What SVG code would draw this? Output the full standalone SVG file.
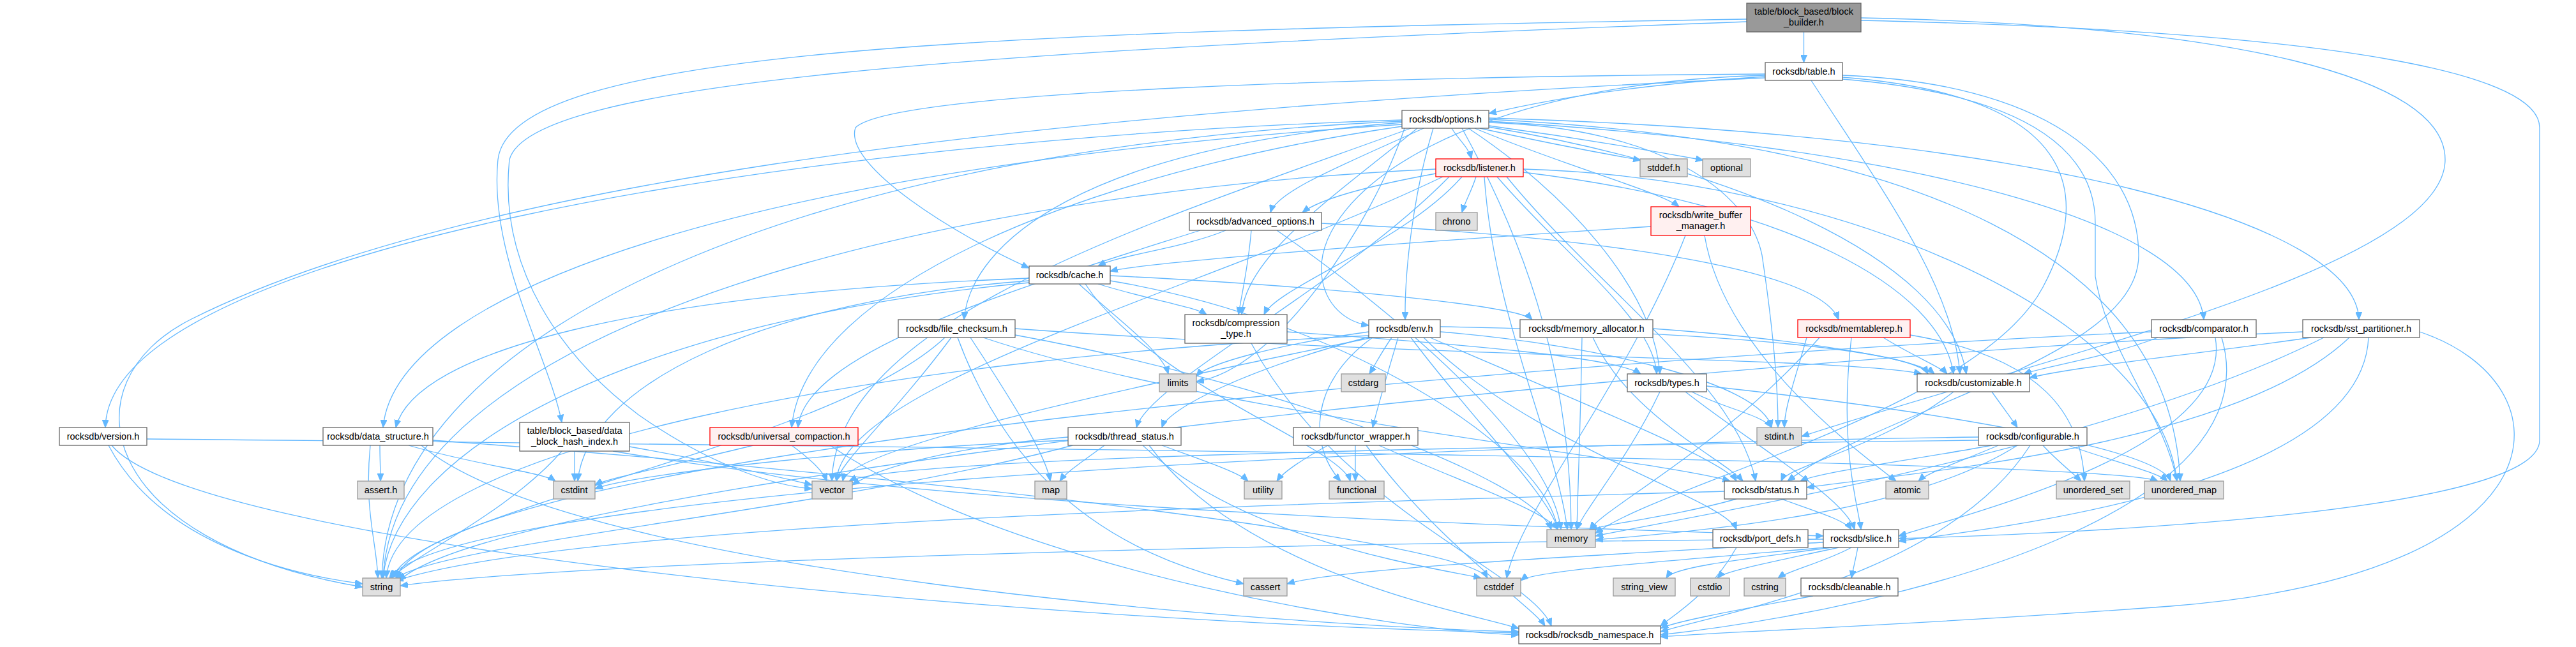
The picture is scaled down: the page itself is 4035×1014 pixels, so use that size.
<svg xmlns="http://www.w3.org/2000/svg" width="4035" height="1014" viewBox="0 0 4035 1014">
<style>
.e{fill:none;stroke:#63b8ff;stroke-width:1.3;marker-end:url(#ah)}
.n{fill:#ffffff;stroke:#666666;stroke-width:1.3}
.g{fill:#e0e0e0;stroke:#999999;stroke-width:1.3}
.r{fill:#fff0f0;stroke:#ff0000;stroke-width:1.3}
.root{fill:#999999;stroke:#666666;stroke-width:1.3}
text{font-family:"Liberation Sans",Arial,sans-serif;font-size:14.5px;text-anchor:middle;fill:#000000}
</style>
<defs>
<marker id="ah" viewBox="0 0 12 10" refX="12" refY="5" markerWidth="12" markerHeight="10" markerUnits="userSpaceOnUse" orient="auto">
<path d="M0,0 L12,5 L0,10 z" fill="#63b8ff" stroke="#63b8ff"/>
</marker>
</defs>
<rect width="4035" height="1014" fill="#ffffff"/>
<g id="edges">
<path class="e" d="M2825.5,50 L2825.5,98"/>
<path class="e" d="M2736,30 C1500,50 800,80 780,250 C765,400 860,560 880,662"/>
<path class="e" d="M2736,34 C1500,80 830,130 798,250 C780,420 880,560 1000,650 C1100,720 1200,760 1272,766"/>
<path class="e" d="M2915,28 C3500,40 3830,120 3830,250 C3830,420 3200,560 2822,684"/>
<path class="e" d="M2915,32 C3700,50 3978,120 3978,200 L3978,690 C3978,800 3300,835 2974,844"/>
<path class="e" d="M2765,120 C2600,130 2450,150 2332,178"/>
<path class="e" d="M2765,116 C2200,120 1400,140 1340,200 C1320,260 1500,370 1612,420"/>
<path class="e" d="M2837,126 C2950,300 3060,450 3070,586"/>
<path class="e" d="M2765,118 C2300,130 2060,300 2070,430 C2075,480 2110,505 2144,510"/>
<path class="e" d="M2886,118 C3200,130 3350,250 3350,400 C3350,560 2950,640 2800,754"/>
<path class="e" d="M2886,121 C3250,150 3280,300 3200,450 C3100,640 2600,760 2499,836"/>
<path class="e" d="M2765,122 C1500,180 700,300 300,500 C100,600 150,850 568,920"/>
<path class="e" d="M2886,124 C3200,150 3282,250 3282,350 L3282,433 C3300,550 3390,650 3410,754"/>
<path class="e" d="M2274,201 C2285,220 2300,230 2305,249"/>
<path class="e" d="M2318,201 Q2450,230 2570,251"/>
<path class="e" d="M2332,197 Q2500,220 2668,251"/>
<path class="e" d="M2332,192 C2600,200 2740,300 2760,400 C2775,500 2785,600 2785,670"/>
<path class="e" d="M2200,201 C2150,350 2000,580 1874,598"/>
<path class="e" d="M2290,201 C2400,400 2460,600 2461,830"/>
<path class="e" d="M2196,190 C1300,230 610,500 598,906"/>
<path class="e" d="M2332,187 C3000,220 3400,400 3415,754"/>
<path class="e" d="M2210,201 C1800,350 1310,500 1303,754"/>
<path class="e" d="M2230,201 C2100,260 2000,300 1990,333"/>
<path class="e" d="M2332,190 C3000,230 3440,350 3452,501"/>
<path class="e" d="M2220,201 C2100,300 1950,400 1945,493"/>
<path class="e" d="M2332,199 C2700,260 3050,400 3080,586"/>
<path class="e" d="M2196,195 C1200,260 620,450 600,670"/>
<path class="e" d="M2245,201 C2215,300 2200,420 2201,501"/>
<path class="e" d="M2196,192 C1700,230 1520,380 1510,501"/>
<path class="e" d="M2332,185 C3200,210 3690,350 3695,501"/>
<path class="e" d="M2300,201 C2450,300 2590,450 2600,586"/>
<path class="e" d="M2196,198 C1700,270 1260,450 1240,670"/>
<path class="e" d="M2196,188 C1200,220 170,400 165,670"/>
<path class="e" d="M2310,201 C2450,260 2600,300 2630,324"/>
<path class="e" d="M2312,277 C2305,300 2295,315 2290,333"/>
<path class="e" d="M2325,277 C2340,500 2440,700 2455,830"/>
<path class="e" d="M2249,265 C1500,300 620,500 600,906"/>
<path class="e" d="M2386,265 C2900,280 3380,500 3410,754"/>
<path class="e" d="M2260,277 C1900,450 1320,600 1310,754"/>
<path class="e" d="M2249,272 C2150,290 2070,310 2040,333"/>
<path class="e" d="M2290,277 C2200,380 2000,450 1980,493"/>
<path class="e" d="M2386,270 C2800,320 3040,450 3060,586"/>
<path class="e" d="M2360,277 C2500,450 2720,600 2750,754"/>
<path class="e" d="M2270,277 C2100,450 1800,600 1780,670"/>
<path class="e" d="M2345,277 C2450,400 2590,500 2595,586"/>
<path class="e" d="M2000,361 C2200,500 2430,700 2445,830"/>
<path class="e" d="M1920,361 C1850,390 1750,400 1720,417"/>
<path class="e" d="M1960,361 C1955,420 1945,460 1940,493"/>
<path class="e" d="M2070,350 C2500,370 2850,420 2880,501"/>
<path class="e" d="M1880,361 C1600,450 1260,550 1250,670"/>
<path class="e" d="M1612,440 C1200,470 920,600 905,754"/>
<path class="e" d="M1700,445 C1800,600 2100,700 2115,754"/>
<path class="e" d="M1690,445 C1750,500 1820,550 1830,586"/>
<path class="e" d="M1739,440 C2100,500 2420,700 2440,830"/>
<path class="e" d="M1612,443 C1000,500 620,700 600,906"/>
<path class="e" d="M1720,445 C1800,470 1870,480 1890,493"/>
<path class="e" d="M1612,436 C1000,460 650,550 620,670"/>
<path class="e" d="M1739,432 C2100,450 2380,480 2400,501"/>
<path class="e" d="M1960,538 C2100,800 2400,900 2430,981"/>
<path class="e" d="M2016,520 C2300,540 2530,560 2570,586"/>
<path class="e" d="M2478,529 C2476,650 2472,750 2470,830"/>
<path class="e" d="M2589,515 C2800,530 3000,560 3030,586"/>
<path class="e" d="M2495,529 C2550,650 2700,720 2730,754"/>
<path class="e" d="M595,698 C595,720 596,735 596,754"/>
<path class="e" d="M678,690 C1500,750 2300,850 2330,906"/>
<path class="e" d="M640,698 C750,730 850,740 870,754"/>
<path class="e" d="M580,698 C570,800 590,850 592,906"/>
<path class="e" d="M660,698 C900,900 2000,980 2379,990"/>
<path class="e" d="M2650,614 C2700,640 2760,650 2775,670"/>
<path class="e" d="M2600,614 C2550,720 2480,800 2470,830"/>
<path class="e" d="M2673,605 C3000,640 3380,700 3400,754"/>
<path class="e" d="M2640,614 C2750,700 2890,780 2905,830"/>
<path class="e" d="M3120,614 C3135,635 3150,655 3160,670"/>
<path class="e" d="M3060,614 C2950,700 2800,730 2790,754"/>
<path class="e" d="M3130,698 C3080,720 3020,740 3005,754"/>
<path class="e" d="M3099,685 C2000,700 700,780 610,906"/>
<path class="e" d="M3240,698 C3300,720 3380,740 3395,754"/>
<path class="e" d="M3200,698 C3220,720 3245,740 3260,754"/>
<path class="e" d="M3099,690 C2200,700 1400,720 1330,754"/>
<path class="e" d="M3180,698 C3050,900 2700,960 2601,990"/>
<path class="e" d="M3120,698 C3000,720 2850,740 2820,754"/>
<path class="e" d="M3160,698 C3000,800 2700,830 2499,846"/>
<path class="e" d="M2720,782 C2620,810 2520,820 2490,830"/>
<path class="e" d="M2701,770 C2000,790 900,820 620,910"/>
<path class="e" d="M2790,782 C2840,800 2890,815 2900,830"/>
<path class="e" d="M2856,850 C2500,870 2100,890 2016,915"/>
<path class="e" d="M2860,858 C2600,880 2400,895 2382,910"/>
<path class="e" d="M2880,858 C2780,880 2700,895 2690,906"/>
<path class="e" d="M2900,858 C2860,880 2800,895 2785,906"/>
<path class="e" d="M2856,845 C2000,850 900,880 627,918"/>
<path class="e" d="M2870,858 C2700,880 2620,890 2610,906"/>
<path class="e" d="M2910,858 C2907,875 2903,890 2900,906"/>
<path class="e" d="M2840,934 C2700,960 2620,975 2601,985"/>
<path class="e" d="M2256,520 C2500,540 2760,600 2775,670"/>
<path class="e" d="M2180,529 C2165,550 2155,570 2145,586"/>
<path class="e" d="M2150,529 C2050,600 2050,700 2100,754"/>
<path class="e" d="M2144,520 C2000,540 1890,570 1874,590"/>
<path class="e" d="M2210,529 C2300,650 2430,780 2440,830"/>
<path class="e" d="M2144,526 C1400,560 620,700 605,906"/>
<path class="e" d="M2150,529 C1800,600 1330,700 1320,754"/>
<path class="e" d="M2256,512 C2700,520 3000,550 3020,586"/>
<path class="e" d="M2190,529 C2175,580 2160,630 2150,670"/>
<path class="e" d="M2240,529 C2450,620 2700,720 2720,754"/>
<path class="e" d="M2144,528 C1950,580 1830,640 1820,670"/>
<path class="e" d="M2230,529 C2400,700 2700,780 2720,830"/>
<path class="e" d="M2123,698 L2123,754"/>
<path class="e" d="M2160,698 C2300,760 2420,800 2440,830"/>
<path class="e" d="M2080,698 C2040,720 2010,740 2000,754"/>
<path class="e" d="M2140,698 C2250,850 2400,950 2420,981"/>
<path class="e" d="M1790,698 C1950,850 2250,890 2320,906"/>
<path class="e" d="M1673,690 C1400,700 1000,740 932,766"/>
<path class="e" d="M1730,698 C1700,720 1670,740 1660,754"/>
<path class="e" d="M1680,698 C1300,800 700,850 620,906"/>
<path class="e" d="M1820,698 C1880,720 1940,740 1955,754"/>
<path class="e" d="M1673,685 C1500,700 1380,730 1335,760"/>
<path class="e" d="M1800,698 C1950,900 2300,960 2379,985"/>
<path class="e" d="M1500,529 C1600,800 1800,880 1948,915"/>
<path class="e" d="M1520,529 C1600,650 1640,720 1645,754"/>
<path class="e" d="M1590,525 C2000,600 2400,750 2430,830"/>
<path class="e" d="M1480,529 C1300,700 650,800 615,906"/>
<path class="e" d="M1490,529 C1400,650 1320,720 1310,754"/>
<path class="e" d="M1590,515 C2200,560 2900,560 3010,586"/>
<path class="e" d="M1540,529 C1900,650 2600,720 2710,754"/>
<path class="e" d="M170,698 C250,850 450,900 568,915"/>
<path class="e" d="M230,688 C1500,700 3300,720 3380,754"/>
<path class="e" d="M175,698 C300,850 1500,970 2379,992"/>
<path class="e" d="M1180,698 C1050,730 950,750 932,760"/>
<path class="e" d="M1240,698 C1270,720 1290,740 1295,754"/>
<path class="e" d="M1300,698 C1600,900 2200,990 2379,995"/>
<path class="e" d="M2830,529 C2810,600 2795,640 2795,670"/>
<path class="e" d="M2850,529 C2700,700 2520,790 2490,830"/>
<path class="e" d="M2992,525 C3200,560 3260,650 3265,754"/>
<path class="e" d="M2950,529 C3000,560 3040,575 3050,586"/>
<path class="e" d="M2900,529 C2880,700 2910,790 2915,830"/>
<path class="e" d="M3370,520 C2500,560 700,700 620,906"/>
<path class="e" d="M3380,529 C3300,560 3200,575 3170,586"/>
<path class="e" d="M3480,529 C3560,800 3000,950 2601,995"/>
<path class="e" d="M3470,529 C3500,700 3100,800 2974,840"/>
<path class="e" d="M3640,529 C3300,700 2700,800 2499,840"/>
<path class="e" d="M3607,520 C2700,560 800,750 625,910"/>
<path class="e" d="M3620,529 C3400,560 3250,575 3179,592"/>
<path class="e" d="M3790,520 C4030,600 4030,900 3400,950 C3000,980 2700,990 2601,998"/>
<path class="e" d="M3710,529 C3700,750 3200,820 2974,848"/>
<path class="e" d="M3680,529 C3500,700 3000,740 2830,764"/>
<path class="e" d="M900,707 C900,725 900,740 900,754"/>
<path class="e" d="M880,707 C800,800 650,870 612,906"/>
<path class="e" d="M986,700 C1100,720 1230,750 1272,760"/>
<path class="e" d="M960,707 C1500,800 2500,830 2856,840"/>
<path class="e" d="M2720,858 C2680,930 2620,965 2601,981"/>
<path class="e" d="M2586,355 C2200,380 1800,410 1739,425"/>
<path class="e" d="M2670,369 C2700,550 2900,700 2970,754"/>
<path class="e" d="M2640,369 C2550,600 2380,800 2360,906"/>
</g>
<g id="n_block_builder"><rect class="root" x="2736" y="5" width="179" height="45"/><text x="2825.5" y="23">table/block_based/block</text><text x="2825.5" y="40">_builder.h</text></g>
<g id="n_table"><rect class="n" x="2765" y="98" width="121" height="28"/><text x="2825.5" y="117">rocksdb/table.h</text></g>
<g id="n_options"><rect class="n" x="2196" y="173" width="136" height="28"/><text x="2264" y="192">rocksdb/options.h</text></g>
<g id="n_listener"><rect class="r" x="2249" y="249" width="137" height="28"/><text x="2317.5" y="268">rocksdb/listener.h</text></g>
<g id="n_stddef"><rect class="g" x="2569" y="249" width="74" height="28"/><text x="2606" y="268">stddef.h</text></g>
<g id="n_optional"><rect class="g" x="2667" y="249" width="75" height="28"/><text x="2704.5" y="268">optional</text></g>
<g id="n_write_buffer_manager"><rect class="r" x="2586" y="324" width="156" height="45"/><text x="2664" y="342">rocksdb/write_buffer</text><text x="2664" y="359">_manager.h</text></g>
<g id="n_chrono"><rect class="g" x="2249" y="333" width="65" height="28"/><text x="2281.5" y="352">chrono</text></g>
<g id="n_advanced_options"><rect class="n" x="1863" y="333" width="207" height="28"/><text x="1966.5" y="352">rocksdb/advanced_options.h</text></g>
<g id="n_cache"><rect class="n" x="1612" y="417" width="127" height="28"/><text x="1675.5" y="436">rocksdb/cache.h</text></g>
<g id="n_compression_type"><rect class="n" x="1856" y="493" width="160" height="45"/><text x="1936" y="511">rocksdb/compression</text><text x="1936" y="528">_type.h</text></g>
<g id="n_file_checksum"><rect class="n" x="1407" y="501" width="183" height="28"/><text x="1498.5" y="520">rocksdb/file_checksum.h</text></g>
<g id="n_env"><rect class="n" x="2144" y="501" width="112" height="28"/><text x="2200" y="520">rocksdb/env.h</text></g>
<g id="n_memory_allocator"><rect class="n" x="2381" y="501" width="208" height="28"/><text x="2485" y="520">rocksdb/memory_allocator.h</text></g>
<g id="n_memtablerep"><rect class="r" x="2816" y="501" width="176" height="28"/><text x="2904" y="520">rocksdb/memtablerep.h</text></g>
<g id="n_comparator"><rect class="n" x="3370" y="501" width="164" height="28"/><text x="3452" y="520">rocksdb/comparator.h</text></g>
<g id="n_sst_partitioner"><rect class="n" x="3607" y="501" width="183" height="28"/><text x="3698.5" y="520">rocksdb/sst_partitioner.h</text></g>
<g id="n_types"><rect class="n" x="2549" y="586" width="124" height="28"/><text x="2611" y="605">rocksdb/types.h</text></g>
<g id="n_customizable"><rect class="n" x="3003" y="586" width="176" height="28"/><text x="3091" y="605">rocksdb/customizable.h</text></g>
<g id="n_cstdarg"><rect class="g" x="2101" y="586" width="69" height="28"/><text x="2135.5" y="605">cstdarg</text></g>
<g id="n_limits"><rect class="g" x="1816" y="586" width="58" height="28"/><text x="1845" y="605">limits</text></g>
<g id="n_version"><rect class="n" x="93" y="670" width="137" height="28"/><text x="161.5" y="689">rocksdb/version.h</text></g>
<g id="n_data_structure"><rect class="n" x="506" y="670" width="172" height="28"/><text x="592" y="689">rocksdb/data_structure.h</text></g>
<g id="n_data_block_hash_index"><rect class="n" x="814" y="662" width="172" height="45"/><text x="900" y="680">table/block_based/data</text><text x="900" y="697">_block_hash_index.h</text></g>
<g id="n_universal_compaction"><rect class="r" x="1112" y="670" width="232" height="28"/><text x="1228" y="689">rocksdb/universal_compaction.h</text></g>
<g id="n_thread_status"><rect class="n" x="1673" y="670" width="177" height="28"/><text x="1761.5" y="689">rocksdb/thread_status.h</text></g>
<g id="n_functor_wrapper"><rect class="n" x="2026" y="670" width="195" height="28"/><text x="2123.5" y="689">rocksdb/functor_wrapper.h</text></g>
<g id="n_stdint"><rect class="g" x="2752" y="670" width="70" height="28"/><text x="2787" y="689">stdint.h</text></g>
<g id="n_configurable"><rect class="n" x="3099" y="670" width="170" height="28"/><text x="3184" y="689">rocksdb/configurable.h</text></g>
<g id="n_assert"><rect class="g" x="560" y="754" width="73" height="28"/><text x="596.5" y="773">assert.h</text></g>
<g id="n_cstdint"><rect class="g" x="867" y="754" width="65" height="28"/><text x="899.5" y="773">cstdint</text></g>
<g id="n_vector"><rect class="g" x="1272" y="754" width="63" height="28"/><text x="1303.5" y="773">vector</text></g>
<g id="n_map"><rect class="g" x="1621" y="754" width="50" height="28"/><text x="1646" y="773">map</text></g>
<g id="n_utility"><rect class="g" x="1949" y="754" width="59" height="28"/><text x="1978.5" y="773">utility</text></g>
<g id="n_functional"><rect class="g" x="2082" y="754" width="86" height="28"/><text x="2125" y="773">functional</text></g>
<g id="n_status"><rect class="n" x="2701" y="754" width="129" height="28"/><text x="2765.5" y="773">rocksdb/status.h</text></g>
<g id="n_atomic"><rect class="g" x="2954" y="754" width="67" height="28"/><text x="2987.5" y="773">atomic</text></g>
<g id="n_unordered_set"><rect class="g" x="3221" y="754" width="115" height="28"/><text x="3278.5" y="773">unordered_set</text></g>
<g id="n_unordered_map"><rect class="g" x="3359" y="754" width="124" height="28"/><text x="3421" y="773">unordered_map</text></g>
<g id="n_memory"><rect class="g" x="2423" y="830" width="76" height="28"/><text x="2461" y="849">memory</text></g>
<g id="n_port_defs"><rect class="n" x="2683" y="830" width="149" height="28"/><text x="2757.5" y="849">rocksdb/port_defs.h</text></g>
<g id="n_slice"><rect class="n" x="2856" y="830" width="118" height="28"/><text x="2915" y="849">rocksdb/slice.h</text></g>
<g id="n_string"><rect class="g" x="568" y="906" width="59" height="28"/><text x="597.5" y="925">string</text></g>
<g id="n_cassert"><rect class="g" x="1948" y="906" width="68" height="28"/><text x="1982" y="925">cassert</text></g>
<g id="n_cstddef"><rect class="g" x="2313" y="906" width="69" height="28"/><text x="2347.5" y="925">cstddef</text></g>
<g id="n_string_view"><rect class="g" x="2527" y="906" width="97" height="28"/><text x="2575.5" y="925">string_view</text></g>
<g id="n_cstdio"><rect class="g" x="2648" y="906" width="61" height="28"/><text x="2678.5" y="925">cstdio</text></g>
<g id="n_cstring"><rect class="g" x="2732" y="906" width="65" height="28"/><text x="2764.5" y="925">cstring</text></g>
<g id="n_cleanable"><rect class="n" x="2821" y="906" width="152" height="28"/><text x="2897" y="925">rocksdb/cleanable.h</text></g>
<g id="n_rocksdb_namespace"><rect class="n" x="2379" y="981" width="222" height="28"/><text x="2490" y="1000">rocksdb/rocksdb_namespace.h</text></g>
</svg>
